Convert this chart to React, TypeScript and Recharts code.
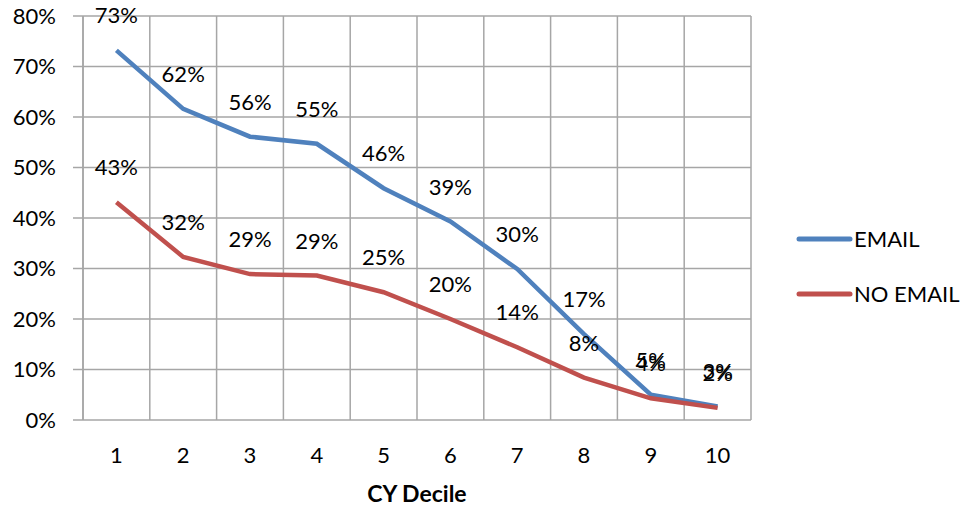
import React from 'react'
import {
  LineChart,
  Line,
  XAxis,
  YAxis,
  CartesianGrid,
  Legend,
  LabelList,
} from 'recharts'

// chart values
const deciles = [1, 2, 3, 4, 5, 6, 7, 8, 9, 10]
const emailRates = [73.2, 61.6, 56.1, 54.7, 45.9, 39.3, 29.9, 17.0, 5.0, 2.7]
const noEmailRates = [43.1, 32.3, 28.9, 28.6, 25.3, 20.0, 14.4, 8.4, 4.3, 2.4]
const yTicks = [0, 10, 20, 30, 40, 50, 60, 70, 80]
const gridTicks = [0.5, 1.5, 2.5, 3.5, 4.5, 5.5, 6.5, 7.5, 8.5, 9.5, 10.5]

const series = [
  { key: 'email', name: 'EMAIL', color: '#4F81BD' },
  { key: 'noEmail', name: 'NO EMAIL', color: '#C0504D' },
]

const FONT = 'Lato, "Open Sans", sans-serif'
const GRID = '#A6A6A6'
const FS = 22

const chartData = deciles.map((d, i) => ({
  decile: d,
  email: emailRates[i],
  noEmail: noEmailRates[i],
}))

const pct = (v: any) => `${Math.round(Number(v))}%`

function LegendBox({ payload }: any) {
  return (
    <div style={{ fontFamily: FONT }}>
      {(payload || []).map((entry: any) => (
        <div
          key={entry.value}
          style={{ display: 'flex', alignItems: 'center', height: 55 }}
        >
          <svg width={58} height={8}>
            <line
              x1={4}
              y1={4}
              x2={55}
              y2={4}
              stroke={entry.color}
              strokeWidth={5}
              strokeLinecap="round"
            />
          </svg>
          <span style={{ fontSize: FS, color: '#000', marginLeft: 1 }}>
            {entry.value}
          </span>
        </div>
      ))}
    </div>
  )
}

export default function App() {
  return (
    <div
      style={{
        position: 'absolute',
        left: 0,
        top: 0,
        width: 971,
        height: 508,
        background: '#fff',
        fontFamily: FONT,
      }}
    >
      <LineChart
        width={971}
        height={508}
        data={chartData}
        margin={{ top: 16, right: 220, bottom: 0, left: 0 }}
      >
        <CartesianGrid xAxisId="grid" stroke={GRID} strokeWidth={1.5} />
        <XAxis
          xAxisId="grid"
          type="number"
          dataKey="decile"
          domain={[0.5, 10.5]}
          ticks={gridTicks}
          interval={0}
          height={0}
          tickSize={8}
          tick={() => <g />}
          axisLine={{ stroke: GRID, strokeWidth: 1.5 }}
          tickLine={{ stroke: GRID, strokeWidth: 1.5 }}
        />
        <XAxis
          type="number"
          dataKey="decile"
          domain={[0.5, 10.5]}
          ticks={deciles}
          interval={0}
          height={88}
          axisLine={false}
          tickLine={false}
          tickSize={8}
          tickMargin={19}
          tick={{ fill: '#000', fontSize: FS }}
          label={{
            value: 'CY Decile',
            position: 'insideBottom',
            offset: 6,
            fill: '#000',
            fontSize: 23,
            fontWeight: 'bold',
          }}
        />
        <YAxis
          domain={[0, 80]}
          ticks={yTicks}
          interval={0}
          width={83}
          tickSize={10}
          tickMargin={17}
          tickFormatter={pct}
          tick={{ fill: '#000', fontSize: FS }}
          axisLine={{ stroke: GRID, strokeWidth: 1.5 }}
          tickLine={{ stroke: GRID, strokeWidth: 1.5 }}
        />
        <Legend
          layout="vertical"
          align="center"
          verticalAlign="middle"
          content={<LegendBox />}
          wrapperStyle={{ left: 795, top: 211, width: 176 }}
        />
        {series.map(s => (
          <Line
            key={s.key}
            dataKey={s.key}
            name={s.name}
            type="linear"
            stroke={s.color}
            strokeWidth={4.5}
            dot={false}
            activeDot={false}
            isAnimationActive={false}
          >
            <LabelList
              dataKey={s.key}
              position="top"
              offset={27}
              formatter={pct}
              fill="#000"
              fontSize={FS}
            />
          </Line>
        ))}
      </LineChart>
    </div>
  )
}
